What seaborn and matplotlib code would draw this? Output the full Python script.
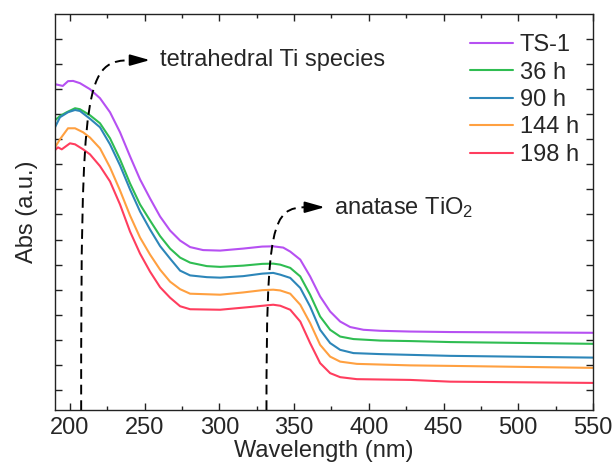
import numpy as np
import pandas as pd
import matplotlib
matplotlib.use("Agg")
import matplotlib.pyplot as plt
import seaborn as sns
from matplotlib.path import Path
from matplotlib.patches import PathPatch

# valori (lunghezza d'onda in nm, assorbanza in u.a.)
wl_ts1 = [190, 195.2, 198.7, 202.1, 206.7, 213.4, 220.1, 226.8, 233.5, 240.2, 246.9, 253.6,
          260.3, 267, 273.7, 280.4, 289.1, 300.5, 315.9, 328.6, 336, 342.7, 347.4, 354.1,
          360.7, 367.4, 374.1, 380.8, 387.5, 396.4, 407.6, 427.7, 454.5, 550]
abs_ts1 = [1.220, 1.213, 1.232, 1.233, 1.224, 1.200, 1.164, 1.108, 1.028, 0.932, 0.840, 0.764,
           0.692, 0.636, 0.596, 0.570, 0.558, 0.556, 0.564, 0.572, 0.573, 0.568, 0.552, 0.520,
           0.453, 0.373, 0.313, 0.273, 0.251, 0.240, 0.236, 0.233, 0.231, 0.228]

wl_36 = [190, 193.3, 197.8, 203.4, 206.7, 213.4, 220.1, 226.8, 233.5, 240.2, 246.9, 253.6,
         260.3, 267, 273.7, 280.4, 291.6, 300.5, 315.9, 328.6, 336, 340.7, 347.4, 354.1,
         360.7, 367.4, 374.1, 380.8, 389.7, 407.6, 427.7, 454.5, 550]
abs_36 = [1.076, 1.093, 1.108, 1.124, 1.120, 1.096, 1.064, 1.004, 0.920, 0.824, 0.740, 0.676,
          0.614, 0.564, 0.528, 0.508, 0.494, 0.491, 0.496, 0.503, 0.504, 0.500, 0.487, 0.453,
          0.380, 0.293, 0.240, 0.213, 0.203, 0.197, 0.195, 0.191, 0.184]

wl_90 = [190, 193.3, 198.7, 203.4, 206.7, 213.4, 220.1, 226.8, 233.5, 240.2, 246.9, 253.6,
         260.3, 267, 273.7, 280.4, 291.6, 300.5, 315.9, 328.6, 336, 340.7, 347.4, 354.1,
         360.7, 367.4, 374.1, 380.8, 389.7, 407.6, 427.7, 454.5, 550]
abs_90 = [1.048, 1.088, 1.108, 1.117, 1.113, 1.082, 1.048, 0.980, 0.896, 0.800, 0.712, 0.640,
          0.574, 0.524, 0.476, 0.457, 0.450, 0.448, 0.454, 0.464, 0.467, 0.460, 0.447, 0.407,
          0.333, 0.240, 0.187, 0.160, 0.147, 0.143, 0.140, 0.136, 0.129]

wl_144 = [190, 193.3, 198.7, 203.4, 208.8, 213.4, 220.1, 226.8, 233.5, 240.2, 246.9, 253.6,
          260.3, 267, 273.7, 280.4, 300.5, 315.9, 328.6, 336, 340.7, 347.4, 354.1, 360.7,
          367.4, 374.1, 380.8, 392, 427.7, 454.5, 550]
abs_144 = [0.968, 1.000, 1.044, 1.044, 1.028, 1.007, 0.964, 0.888, 0.796, 0.696, 0.608, 0.540,
           0.480, 0.432, 0.402, 0.384, 0.380, 0.389, 0.398, 0.400, 0.397, 0.384, 0.340, 0.267,
           0.180, 0.133, 0.113, 0.104, 0.098, 0.096, 0.088]

wl_198 = [190, 192, 194.5, 200, 203.4, 208.8, 213.4, 220.1, 226.8, 233.5, 240.2, 246.9, 253.6,
          260.3, 267, 273.7, 280.4, 300.5, 320.6, 336, 340.7, 347.4, 354.1, 360.7, 367.4,
          374.1, 380.8, 392, 427.7, 454.5, 550]
abs_198 = [0.957, 0.968, 0.960, 0.984, 0.980, 0.960, 0.940, 0.893, 0.832, 0.740, 0.632, 0.544,
           0.472, 0.410, 0.368, 0.334, 0.322, 0.320, 0.331, 0.340, 0.336, 0.320, 0.273, 0.187,
           0.107, 0.067, 0.051, 0.043, 0.040, 0.033, 0.028]

campioni = ["TS-1", "36 h", "90 h", "144 h", "198 h"]
colori = ["#B650F2", "#2FBD52", "#2D86B9", "#FFA040", "#FF3D5E"]

# posizioni delle frecce tratteggiate (nm)
picco_tetra = 207.5
picco_anatasio = 331.5

frames = []
for nome, wl, ab in zip(campioni, [wl_ts1, wl_36, wl_90, wl_144, wl_198],
                        [abs_ts1, abs_36, abs_90, abs_144, abs_198]):
    frames.append(pd.DataFrame({"wl": wl, "abs": ab, "campione": nome}))
df = pd.concat(frames, ignore_index=True)

sns.set_style("ticks")
plt.rcParams['font.family'] = ['Liberation Sans', 'DejaVu Sans']
plt.rcParams['mathtext.default'] = 'regular'

fig = plt.figure(figsize=(6.14, 4.65), dpi=100)
ax = fig.add_axes([0.0896, 0.1183, 0.8762, 0.8516])

sns.lineplot(data=df, x="wl", y="abs", hue="campione", hue_order=campioni,
             palette=dict(zip(campioni, colori)), sort=False, estimator=None,
             linewidth=1.5, solid_joinstyle='round', ax=ax)

ax.set_xlim(190, 550)
ax.set_ylim(-0.08, 1.5)
ax.set_xticks(np.arange(200, 551, 50))
ax.set_xticks(np.arange(225, 551, 50), minor=True)
ax.set_yticks(np.arange(0, 1.41, 0.1))
ax.set_yticklabels([])
ax.tick_params(which='both', direction='in', top=True, right=True, width=1.0, color='#222222')
ax.tick_params(which='major', length=5, labelsize=17, pad=5)
ax.tick_params(which='minor', length=3)
for s in ax.spines.values():
    s.set_linewidth(1.0)
    s.set_color('#222222')

ax.set_xlabel("Wavelength (nm)", fontsize=17, labelpad=1)
ax.set_ylabel("Abs (a.u.)", fontsize=17, labelpad=7)

# frecce tratteggiate
stile = dict(fill=False, lw=1.4, ls=(0, (5, 3)), color='black', zorder=5)
p1 = Path([(picco_tetra, -0.08), (picco_tetra - 0.1, 1.24), (210, 1.316), (242, 1.316)],
          [Path.MOVETO, Path.CURVE4, Path.CURVE4, Path.CURVE4])
ax.add_patch(PathPatch(p1, **stile))
p2 = Path([(picco_anatasio, -0.08), (picco_anatasio, 0.66), (335, 0.729), (358.3, 0.729)],
          [Path.MOVETO, Path.CURVE4, Path.CURVE4, Path.CURVE4])
ax.add_patch(PathPatch(p2, **stile))
freccia = dict(arrowstyle="-|>,head_length=0.6,head_width=0.17", color='black', lw=1.4,
               mutation_scale=20, shrinkA=0, shrinkB=0)
ax.annotate("", xy=(253.5, 1.316), xytext=(242, 1.316), arrowprops=freccia)
ax.annotate("", xy=(370.5, 0.729), xytext=(358.3, 0.729), arrowprops=freccia)

ax.text(260.2, 1.316, "tetrahedral Ti species", fontsize=17, va='center', ha='left')
ax.text(377, 0.729, "anatase TiO$_2$", fontsize=17, va='center', ha='left')

ax.legend(frameon=False, loc='upper left', bbox_to_anchor=(0.772, 0.949), borderpad=0,
          borderaxespad=0, handlelength=1.8, handletextpad=0.3, labelspacing=0.23,
          fontsize=17, title=None)

fig.savefig("out.png", dpi=100)
